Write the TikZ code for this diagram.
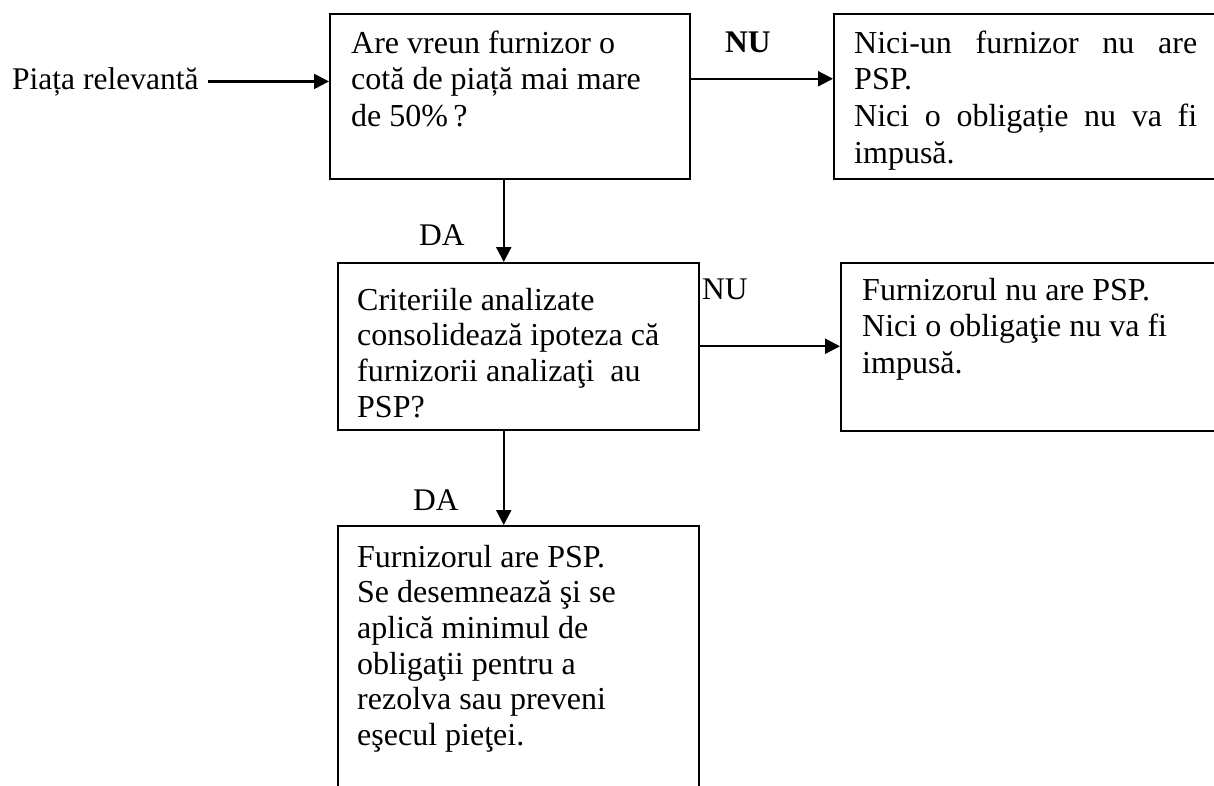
\documentclass[tikz,border=0pt]{standalone}
\usepackage{fontspec}
\setmainfont{Liberation Serif}
\usetikzlibrary{arrows.meta}
\tikzset{
  box/.style={draw, line width=1.5pt, anchor=north west, inner sep=0pt},
  txt/.style={anchor=north west, inner sep=0pt, align=left,
    font=\fontsize{32}{36.7}\selectfont},
  lbl/.style={anchor=base west, inner sep=0pt,
    font=\fontsize{31.5}{36.5}\selectfont},
  arr/.style={line width=2.2pt, -{Triangle[length=15pt,width=15pt]}},
}
\newcommand{\firstline}{\rule{0pt}{24pt}}
\begin{document}
\begin{tikzpicture}[x=1pt,y=-1pt]
  \useasboundingbox (0,0) rectangle (1214,785);
  \clip (0,0) rectangle (1214,785);
  % boxes
  \draw
    (329,13) node[box, minimum width=360pt, minimum height=165pt] (q1){}
    (833,13) node[box, minimum width=420pt, minimum height=165pt] (a1){}
    (337,262) node[box, minimum width=361pt, minimum height=167pt] (q2){}
    (840,262) node[box, minimum width=420pt, minimum height=168pt] (a2){}
    (337,525) node[box, minimum width=361pt, minimum height=320pt] (a3){};
  % texts
  \node[txt] (q1t) at (351,29) {\firstline Are vreun furnizor o\\cotă de piață mai mare\\de 50\%\,?};
  \node[txt, text width=343pt] (a1t) at (854,29) {\firstline Nici-un\hfill furnizor\hfill nu\hfill are\\PSP.\\Nici\hfill o\hfill obligație\hfill nu\hfill va\hfill fi\\impusă.};
  \node[txt, font=\fontsize{32}{35.6}\selectfont] (q2t) at (357,286) {\firstline Criteriile analizate\\consolidează ipoteza că\\furnizorii analizaţi\ \ au\\PSP?};
  \node[txt] (a2t) at (862,276) {\firstline Furnizorul nu are PSP.\\Nici o obligaţie nu va fi\\impusă.};
  \node[txt, font=\fontsize{32}{35.6}\selectfont] (a3t) at (357,543) {\firstline Furnizorul are PSP.\\Se desemnează şi se\\aplică minimul de\\obligaţii pentru a\\rezolva sau preveni\\eşecul pieţei.};
  % labels
  \node[lbl] (in) at (12,89) {Piața relevantă};
  \node[lbl, font=\fontsize{31.5}{36.5}\selectfont\bfseries] (nu1) at (725,52) {NU};
  \node[lbl] (da1) at (419,245) {DA};
  \node[lbl] (nu2) at (702,299) {NU};
  \node[lbl] (da2) at (413,510) {DA};
  \begin{scope}[arr]
    \draw ([xshift=9pt]in.east) to (in.east -| q1.west);
    \draw ([yshift=17.5pt]q1.east) to ([yshift=17.5pt]q1.east -| a1.west);
    \draw ([xshift=-6pt]q1.south) to ([xshift=-6pt]q1.south |- q2.north);
    \draw (q2.east) to (q2.east -| a2.west);
    \draw ([xshift=-14.5pt]q2.south) to ([xshift=-14.5pt]q2.south |- a3.north);
  \end{scope}
\end{tikzpicture}
\end{document}
